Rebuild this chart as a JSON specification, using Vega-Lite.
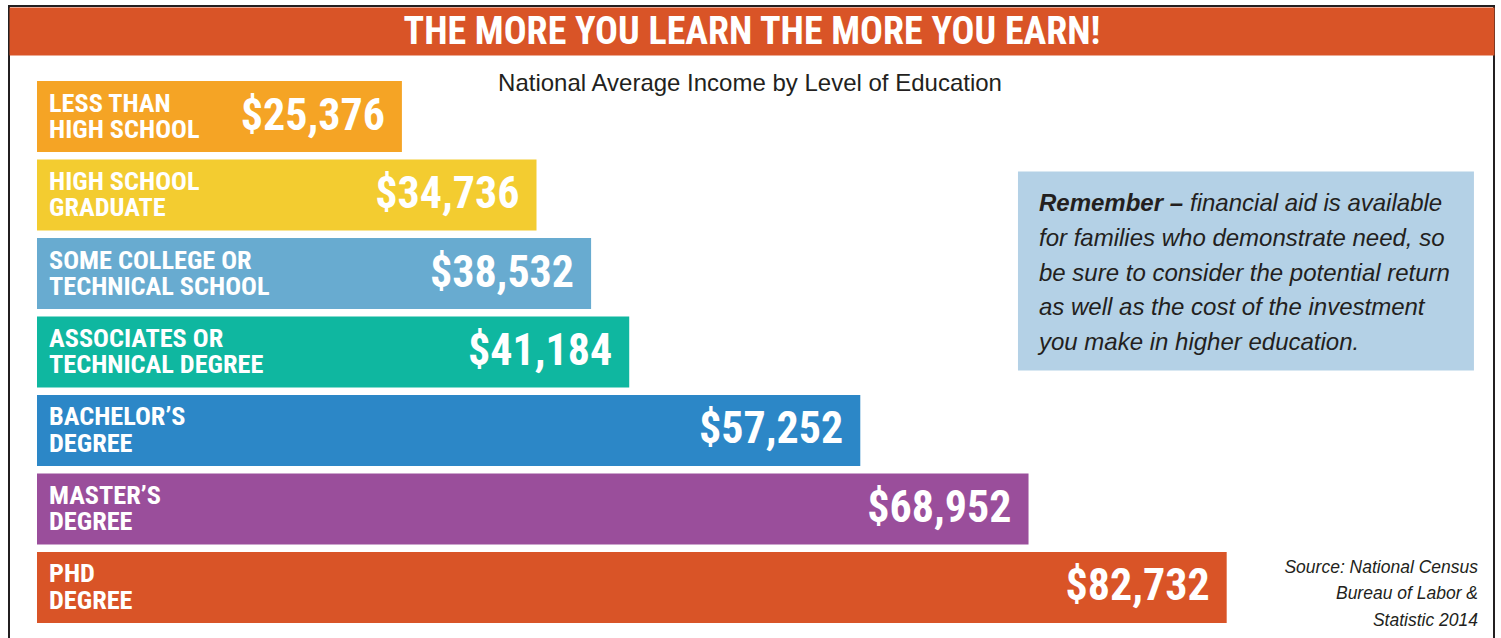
{
  "$schema": "https://vega.github.io/schema/vega-lite/v6.json",
  "autosize": {"type": "none"},
  "width": 1485,
  "height": 640,
  "padding": {"left": 9, "top": 6, "right": 7, "bottom": -8},
  "background": "white",
  "view": {"stroke": "#231F20", "strokeWidth": 2},
  "config": {"font": "Liberation Sans"},
  "data": {"values": [
    {"label": "LESS THAN\nHIGH SCHOOL", "income": 25376},
    {"label": "HIGH SCHOOL\nGRADUATE", "income": 34736},
    {"label": "SOME COLLEGE OR\nTECHNICAL SCHOOL", "income": 38532},
    {"label": "ASSOCIATES OR\nTECHNICAL DEGREE", "income": 41184},
    {"label": "BACHELOR’S\nDEGREE", "income": 57252},
    {"label": "MASTER’S\nDEGREE", "income": 68952},
    {"label": "PHD\nDEGREE", "income": 82732}
  ]},
  "layer": [
    {
      "mark": {"type": "bar"},
      "encoding": {
        "y": {"field": "label", "type": "nominal", "sort": null, "axis": null,
              "scale": {"range": [71.25, 620.75], "paddingInner": 0.0955, "paddingOuter": 0.0478}},
        "x": {"field": "income", "type": "quantitative",
              "scale": {"domain": [-1947, 101321], "nice": false},
              "axis": {"orient": "top", "domain": true, "domainColor": "#D95427", "domainWidth": 48, "domainCap": "butt",
                       "offset": -25, "ticks": false, "labels": false, "grid": false,
                       "title": "THE MORE YOU LEARN THE MORE YOU EARN!", "titleColor": "white",
                       "titleFont": "'Noto Sans Condensed', 'Noto Sans ExtraCondensed', 'Roboto Condensed', Roboto, sans-serif",
                       "titleFontSize": 38, "titleFontWeight": "bold", "titleAnchor": "middle",
                       "titleBaseline": "middle", "titleY": 1, "titlePadding": 0}},
        "color": {"field": "label", "type": "nominal", "sort": null, "legend": null,
                  "scale": {"range": ["#F5A425", "#F3CC30", "#68ABD0", "#0FB7A0", "#2C87C7", "#9A4E9B", "#D95427"]}}
      }
    },
    {
      "mark": {"type": "text", "align": "left", "baseline": "middle", "dx": 12, "dy": -13, "lineBreak": "\n", "lineHeight": 26.3,
               "font": "'Noto Sans Condensed', 'Noto Sans ExtraCondensed', 'Roboto Condensed', Roboto, sans-serif", "fontWeight": "bold", "fontSize": 26.3, "color": "white"},
      "encoding": {
        "y": {"field": "label", "type": "nominal", "sort": null},
        "x": {"datum": 0},
        "text": {"field": "label"}
      }
    },
    {
      "mark": {"type": "text", "align": "right", "baseline": "middle", "dx": -17,
               "font": "'Noto Sans Condensed', 'Noto Sans ExtraCondensed', 'Roboto Condensed', Roboto, sans-serif", "fontWeight": "bold", "fontSize": 44, "color": "white"},
      "encoding": {
        "y": {"field": "label", "type": "nominal", "sort": null},
        "x": {"field": "income", "type": "quantitative"},
        "text": {"field": "income", "type": "quantitative", "format": "$,.0f"}
      }
    },
    {
      "data": {"values": [{"part": "note box"}]},
      "mark": {"type": "rect", "color": "#B4D1E6", "yOffset": -23.5, "y2Offset": 18.5},
      "encoding": {
        "x": {"datum": 68218},
        "x2": {"datum": 99926},
        "y": {"datum": "HIGH SCHOOL\nGRADUATE"},
        "y2": {"datum": "ASSOCIATES OR\nTECHNICAL DEGREE"}
      }
    },
    {
      "data": {"values": [{"text": "National Average Income by Level of Education"}]},
      "mark": {"type": "text", "align": "center", "baseline": "alphabetic", "dy": -25.8, "fontSize": 24, "color": "#231F20"},
      "encoding": {
        "x": {"datum": 49583},
        "y": {"datum": "LESS THAN\nHIGH SCHOOL"},
        "text": {"field": "text"}
      }
    },
    {
      "data": {"values": [{"text": "Remember –"}]},
      "mark": {"type": "text", "align": "left", "baseline": "alphabetic", "dy": 16.2, "fontSize": 24, "fontWeight": "bold", "fontStyle": "italic", "color": "#231F20"},
      "encoding": {
        "x": {"datum": 69680},
        "y": {"datum": "HIGH SCHOOL\nGRADUATE"},
        "text": {"field": "text"}
      }
    },
    {
      "data": {"values": [{"text": "financial aid is available"}]},
      "mark": {"type": "text", "align": "left", "baseline": "alphabetic", "dy": 16.2, "fontSize": 24, "fontStyle": "italic", "color": "#231F20"},
      "encoding": {
        "x": {"datum": 80181},
        "y": {"datum": "HIGH SCHOOL\nGRADUATE"},
        "text": {"field": "text"}
      }
    },
    {
      "data": {"values": [{"text": "for families who demonstrate need, so\nbe sure to consider the potential return\nas well as the cost of the investment\nyou make in higher education."}]},
      "mark": {"type": "text", "align": "left", "baseline": "alphabetic", "dy": 50.9, "lineBreak": "\n", "lineHeight": 34.7, "fontSize": 24, "fontStyle": "italic", "color": "#231F20"},
      "encoding": {
        "x": {"datum": 69680},
        "y": {"datum": "HIGH SCHOOL\nGRADUATE"},
        "text": {"field": "text"}
      }
    },
    {
      "data": {"values": [{"text": "Source: National Census\nBureau of Labor &\nStatistic 2014"}]},
      "mark": {"type": "text", "align": "right", "baseline": "alphabetic", "dy": -14.5, "lineBreak": "\n", "lineHeight": 26.5, "fontSize": 17.5, "fontStyle": "italic", "color": "#231F20"},
      "encoding": {
        "x": {"datum": 100209},
        "y": {"datum": "PHD\nDEGREE"},
        "text": {"field": "text"}
      }
    }
  ]
}
